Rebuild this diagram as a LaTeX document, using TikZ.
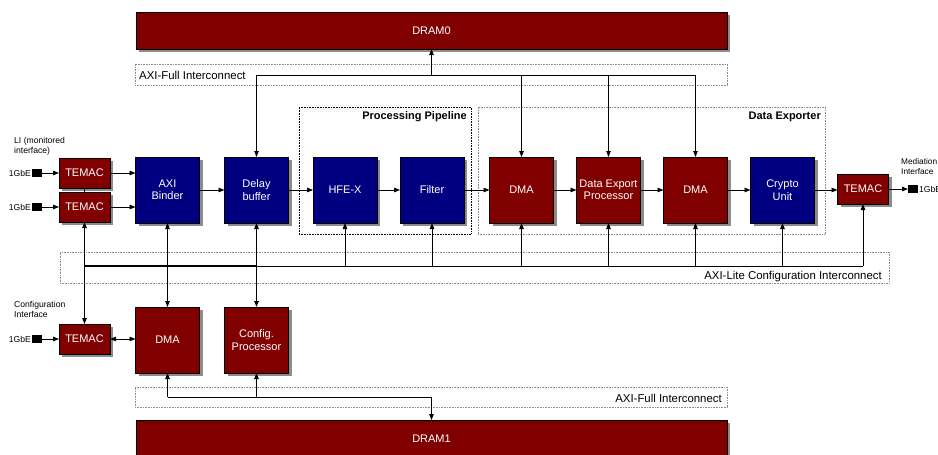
\documentclass[tikz,border=0pt]{standalone}
\usepackage{fontspec}
\setmainfont{Liberation Sans}
\usetikzlibrary{arrows.meta,shadows}
\definecolor{blockred}{HTML}{800000}
\definecolor{blockblue}{HTML}{000080}
\definecolor{framegray}{HTML}{8C8C8C}

\tikzset{
  blk/.style={draw=black, line width=0.6pt, inner sep=0pt, outer sep=0pt,
    minimum width=64pt, minimum height=66pt, text=white, align=center,
    font=\fontsize{11}{12.5}\selectfont,
    drop shadow={shadow xshift=3pt, shadow yshift=-3pt, fill=black!45, opacity=1}},
  redblk/.style={blk, fill=blockred},
  blueblk/.style={blk, fill=blockblue},
  temac/.style={redblk, minimum width=51pt, minimum height=30pt},
  dram/.style={redblk, minimum width=591pt, minimum height=37pt},
  port/.style={fill=black, draw=none, inner sep=0pt, outer sep=0pt,
    minimum width=10pt, minimum height=8pt},
  small/.style={inner sep=1pt, font=\fontsize{8.6}{10.5}\selectfont, align=left},
  frame/.style={draw=framegray, densely dotted, line width=0.6pt, inner sep=0pt,
    outer sep=0pt, fill=none},
  darkframe/.style={frame, draw=black},
  framelabel/.style={inner sep=0pt, font=\fontsize{11.4}{13}\selectfont},
  frametitle/.style={inner sep=0pt, font=\bfseries\fontsize{11}{13}\selectfont},
  wire/.style={draw=black, line width=0.8pt},
  arr/.style={wire, -{Triangle[length=6pt,width=4.5pt]}},
  biarr/.style={wire, {Triangle[length=6pt,width=4.5pt]}-{Triangle[length=6pt,width=4.5pt]}},
}

\begin{document}
\begin{tikzpicture}[x=1pt, y=-1pt]
\useasboundingbox (0,0) rectangle (938,455);
\clip (0,0) rectangle (938,455);
\fill[white] (0,0) rectangle (938,455);

% ---- group frames -------------------------------------------------
\node[frame, minimum width=592pt, minimum height=21pt] (fulltop) at (431,74.5) {};
\node[framelabel, anchor=west] (fulltoplbl) at (139,75) {AXI-Full Interconnect};

\node[frame, minimum width=592pt, minimum height=20pt] (fullbot) at (431,397) {};
\node[framelabel, anchor=east] (fullbotlbl) at (722,398) {AXI-Full Interconnect};

\node[frame, minimum width=829pt, minimum height=31pt] (lite) at (474.5,267.5) {};
\node[framelabel, anchor=east] (litelbl) at (882,277) {AXI-Lite Configuration Interconnect};

\node[darkframe, minimum width=172pt, minimum height=127pt] (pp) at (385,170.5) {};
\node[frametitle, anchor=east] (pptitle) at (467,117) {Processing Pipeline};

\node[frame, minimum width=347pt, minimum height=127pt] (dx) at (651.5,170.5) {};
\node[frametitle, anchor=east] (dxtitle) at (821,117) {Data Exporter};

% ---- memories -----------------------------------------------------
\node[dram] (dram0) at (431.5,30.5) {DRAM0};
\node[dram] (dram1) at (431.5,438.5) {DRAM1};

% ---- monitored interface ports --------------------------------------
\node[small, anchor=west] (lilbl) at (13,146.5) {LI (monitored\\interface)};
\node[temac] (tem1) at (84.5,173) {TEMAC};
\draw[wire] (tem1.south) -- ++(0,5);
\node[temac] (tem2) at (84.5,207) {TEMAC};
\node[port] (g1) at (37,173) {};
\node[port] (g2) at (37,207) {};
\node[small, anchor=east] (g1t) at (g1.west) {1GbE};
\node[small, anchor=east] (g2t) at (g2.west) {1GbE};

% ---- main row of blocks -------------------------------------------
\node[blueblk] (bind)   at (167.5,190) {AXI\\Binder};
\node[blueblk] (dly)    at (256.5,190) {Delay\\buffer};
\node[blueblk] (hfe)    at (345,190)   {HFE-X};
\node[blueblk] (filt)   at (432,190)   {Filter};
\node[redblk]  (dma1)   at (521.5,190) {DMA};
\node[redblk]  (dep)    at (608.5,190) {Data Export\\Processor};
\node[redblk]  (dma2)   at (695.5,190) {DMA};
\node[blueblk] (crypto) at (782.5,190) {Crypto\\Unit};

% ---- mediation interface ------------------------------------------
\node[temac] (temR) at (863,189) {TEMAC};
\node[port] (gR) at (913,189) {};
\node[small, anchor=west] (gRt) at (gR.east) {1GbE};
\node[small, anchor=west, font=\fontsize{8.3}{10.5}\selectfont] (medlbl) at (900,166.5) {Mediation\\Interface};

% ---- configuration side -------------------------------------------
\node[small, anchor=west] (cfglbl) at (13,309.5) {Configuration\\Interface};
\node[temac] (tem3) at (84.5,339) {TEMAC};
\node[port] (g3) at (37,339) {};
\node[small, anchor=east] (g3t) at (g3.west) {1GbE};
\node[redblk] (dmaB) at (167.5,340) {DMA};
\node[redblk] (cfg)  at (256.5,340) {Config.\\Processor};

% ---- bus reference points -----------------------------------------
\coordinate (topbus) at (0,75);
\coordinate (botbus) at (0,397);
\coordinate (busL) at (84.5,266);
\coordinate (busR) at (863,266);

% ---- AXI-Full towards DRAM0 ---------------------------------------
\draw[wire] (dly.north |- topbus) -- (dma2.north |- topbus);
\draw[arr] (dly.north |- topbus) -- (dly.north);
\draw[arr] (dma1.north |- topbus) -- (dma1.north);
\draw[arr] (dep.north |- topbus) -- (dep.north);
\draw[arr] (dma2.north |- topbus) -- (dma2.north);
\draw[arr] (dram0.south |- topbus) -- (dram0.south);

% ---- data path ------------------------------------------------------
\draw[arr] (g1.east) -- (tem1.west);
\draw[arr] (g2.east) -- (tem2.west);
\draw[arr] (tem1.east) -- (tem1.east -| bind.west);
\draw[arr] (tem2.east) -- (tem2.east -| bind.west);
\draw[arr] (bind.east) -- (dly.west);
\draw[arr] (dly.east) -- (hfe.west);
\draw[arr] (hfe.east) -- (filt.west);
\draw[arr] (filt.east) -- (dma1.west);
\draw[arr] (dma1.east) -- (dep.west);
\draw[arr] (dep.east) -- (dma2.west);
\draw[arr] (dma2.east) -- (crypto.west);
\draw[arr] (crypto.east) -- (crypto.east -| temR.west);
\draw[arr] (temR.east) -- (gR.west);

% ---- AXI-Lite configuration bus -----------------------------------
\draw[wire] (busL) -- (busR);
\draw[wire, line width=1.5pt] (busL) -- (cfg.north |- busL);
\draw[biarr] (tem2.south) -- (tem3.north);
\draw[arr] (hfe.south |- busL) -- (hfe.south);
\draw[arr] (filt.south |- busL) -- (filt.south);
\draw[arr] (dma1.south |- busL) -- (dma1.south);
\draw[arr] (dep.south |- busL) -- (dep.south);
\draw[arr] (dma2.south |- busL) -- (dma2.south);
\draw[arr] (crypto.south |- busL) -- (crypto.south);
\draw[arr] (temR.south |- busL) -- (temR.south);
\draw[biarr] (bind.south) -- (dmaB.north);
\draw[biarr, line width=1.3pt] (dly.south) -- (cfg.north);

% ---- configuration path and AXI-Full towards DRAM1 ----------------
\draw[arr] (g3.east) -- (tem3.west);
\draw[biarr] (tem3.east) -- (tem3.east -| dmaB.west);
\draw[wire] (dmaB.south |- botbus) -- (dram1.north |- botbus);
\draw[arr] (dmaB.south |- botbus) -- (dmaB.south);
\draw[arr] (cfg.south |- botbus) -- (cfg.south);
\draw[arr] (dram1.north |- botbus) -- (dram1.north);
\end{tikzpicture}
\end{document}
